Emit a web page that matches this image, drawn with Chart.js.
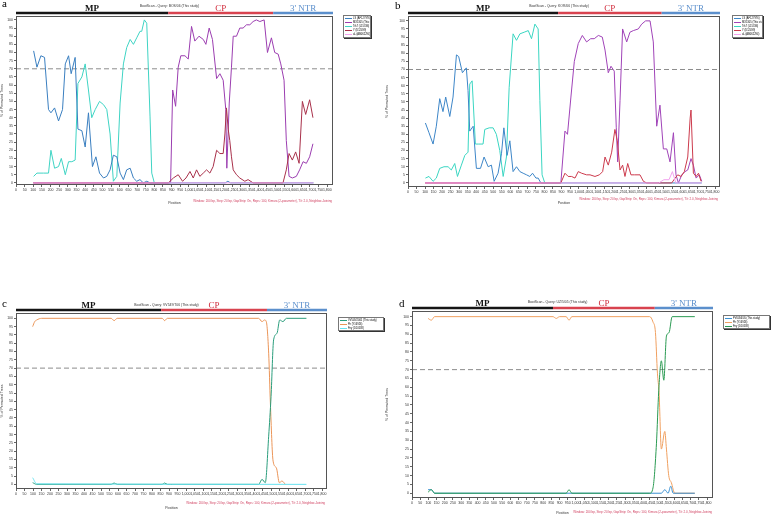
<!DOCTYPE html>
<html><head><meta charset="utf-8">
<script src="https://cdn.jsdelivr.net/npm/chart.js@4.4.0/dist/chart.umd.min.js"></script>
<style>
html,body{margin:0;padding:0;background:#fff;width:775px;height:518px;overflow:hidden;font-family:Arial,"Liberation Sans",sans-serif;}
canvas{position:absolute;}
.t{position:absolute;white-space:nowrap;line-height:1;}
.letter{font-family:"Liberation Serif",serif;font-size:11px;line-height:11px;color:#000;}
.reg{font-family:"Liberation Serif",serif;font-size:9px;font-weight:bold;transform:translate(-50%,-50%);}
.title{font-size:3.4px;color:#333;transform:translate(-50%,-50%);}
.foot{font-size:3px;color:#d04060;transform:translate(-100%,-50%);}
.legend{position:absolute;border:1px solid #777;background:#fff;box-shadow:1px 1px 0 #333;padding:1px 1px;font-size:2.6px;line-height:4px;overflow:hidden;box-sizing:border-box;}
.legend div{white-space:nowrap;}
.legend span.sw{display:inline-block;width:7px;height:0;border-top:1px solid;vertical-align:middle;margin-right:1px;}
</style></head><body>
<script>
// ---------- common ticks ----------
const xTicks = []; for (let v = 0; v <= 1800; v += 50) xTicks.push(v);
const yTicks = []; for (let v = 0; v <= 100; v += 5) yTicks.push(v);

// ---------- panel a ----------
const a_title = "BootScan - Query: BOS/06 (This study)";
const a_labels = ["LS (AF127976)", "MX1305 (This study)", "Trk7 (L15336)", "Y (D12499)", "aL (AB062294)"];
const a_LS_pos = [102,121,144,165,188,202,223,246,269,285,304,319,342,358,381,400,419,442,462,483,506,525,544,563,583,602,621,640,660,679,698,717,736,756,775,1210,1225,1240,1720];
const a_LS     = [81,71,78,77,45,43,46,38,45,73,78,67,77,33,32,22,43,10,16,6,3,4,8,17,16,6,2,8,9,3,1,2,0,1,0,0,1,0,0];
const a_MX_pos = [100,894,906,923,938,953,977,996,1015,1034,1058,1083,1098,1117,1136,1160,1179,1198,1213,1219,1233,1246,1256,1275,1294,1313,1333,1352,1371,1390,1410,1435,1454,1477,1496,1516,1531,1550,1563,1579,1598,1621,1640,1660,1679,1698,1717];
const a_MX     = [0,0,57,47,71,78,78,76,96,87,90,88,85,95,88,64,67,63,45,9,49,71,90,90,95,95,97,97,99,100,99,100,80,89,80,79,73,63,26,4,3,4,8,13,12,16,24];
const a_TN_pos = [102,121,160,188,202,223,246,262,285,304,323,342,358,381,400,419,438,458,483,506,525,544,563,583,602,621,640,660,679,698,717,727,742,756,775,785,800];
const a_TN     = [4,6,6,6,20,9,10,15,5,13,13,14,61,65,73,57,40,45,50,48,45,30,1,4,49,73,83,88,85,89,93,93,100,98,41,6,0];
const a_Y_pos  = [100,881,910,938,963,983,1006,1025,1044,1063,1083,1102,1121,1140,1160,1179,1198,1208,1217,1227,1236,1246,1256,1275,1294,1323,1342,1371,1544,1563,1579,1598,1617,1637,1656,1675,1698,1717];
const a_Y      = [0,0,3,5,1,3,7,3,8,4,6,8,6,10,20,18,18,30,46,33,26,16,8,5,3,1,2,0,0,8,18,14,19,12,50,42,51,40];
const a_aL_pos = [100,1720];
const a_aL     = [0,0];

// ---------- panel b ----------
const b_title = "BootScan - Query: KOR/06 (This study)";
const b_labels = ["LS (AF127976)", "MX1305 (This study)", "Trk7 (L15336)", "Y (D12499)", "aL (AB062294)"];
const b_LS_pos = [102,123,147,166,186,205,221,245,264,284,297,319,342,352,362,382,401,425,446,470,489,505,528,548,562,581,597,616,636,656,675,695,714,730,750,763,779,1722];
const b_LS     = [37,31,24,35,52,44,53,41,53,79,78,68,71,57,32,35,9,9,16,10,11,1,6,18,34,17,26,7,10,7,6,5,4,6,3,3,0,0];
const b_MX_pos = [100,896,920,935,955,975,998,1022,1047,1071,1092,1116,1139,1155,1174,1190,1209,1221,1229,1243,1258,1282,1301,1321,1350,1370,1393,1419,1438,1458,1477,1497,1517,1536,1556,1571,1585,1605,1624,1640,1659,1673,1689,1708,1722];
const b_MX     = [0,0,32,30,53,75,86,91,87,89,89,91,90,82,68,72,69,34,13,51,95,87,93,94,95,98,100,100,87,35,48,21,21,13,31,5,0,5,7,8,15,11,3,5,1];
const b_TN_pos = [102,123,147,166,186,211,235,254,274,290,313,333,352,362,376,395,415,440,450,476,499,518,538,558,577,593,616,636,656,681,705,724,744,763,773,786,802];
const b_TN     = [3,4,1,3,9,10,10,8,12,4,11,17,19,61,63,24,24,24,33,34,34,30,20,4,16,59,92,88,92,93,94,89,98,95,51,5,0];
const b_Y_pos  = [100,896,920,939,959,979,998,1018,1047,1067,1096,1122,1141,1155,1174,1194,1213,1227,1243,1258,1272,1288,1307,1327,1360,1380,1399,1546,1566,1581,1601,1620,1640,1654,1659,1673,1689,1703,1718];
const b_Y      = [0,0,6,4,4,3,7,6,5,5,4,5,7,16,11,19,33,26,8,11,4,12,5,5,5,1,0,0,3,5,4,7,16,40,45,6,4,6,1];
const b_aL_pos = [100,1470,1500,1530,1550,1570,1720];
const b_aL     = [0,0,2,2,7,0,0];

// ---------- panel c ----------
const c_title = "BootScan - Query: VV549/T06 (This study)";
const c_labels = ["VV549/2005 (This study)", "Fh (Y16926)", "Fny (D10538)"];
const c_Q_pos  = [98,122,560,577,595,860,874,890,1427,1447,1466,1486,1500,1515,1535,1551,1570,1590,1708];
const c_Q      = [1,0,0,0.8,0,0,0.8,0,0,3,1,29,53,87,91,99,98,100,100];
const c_Fh_pos = [98,110,122,151,560,577,595,860,874,890,1427,1447,1462,1472,1486,1496,1512,1531,1549,1564,1584];
const c_Fh     = [95,98,99,100,100,98.6,100,100,98.6,100,100,98,99,98,79,49,14,10,1,2,0];
const c_Fny_pos= [98,122,1708];
const c_Fny    = [4,0.3,0];

// ---------- panel d ----------
const d_title = "BootScan - Query: UZ/5/05 (This study)";
const d_labels = ["PV0056/05 (This study)", "Fh (Y16926)", "Fny (D10538)"];
const d_PV_pos = [98,118,138,1470,1521,1542,1562,1578,1593,1725];
const d_PV     = [2,2,0,0,0,2,0,4,0,0];
const d_Fh_pos = [98,118,138,860,880,900,940,958,975,1450,1470,1485,1497,1507,1521,1542,1552,1566,1582,1603,1725];
const d_Fh     = [99,98,100,100,99,100,100,98,100,100,97,91,68,57,25,35,25,10,6,0,0];
const d_Fny_pos= [98,118,138,940,958,975,1450,1470,1491,1505,1521,1536,1552,1568,1587,1725];
const d_Fny    = [0.6,2,0,0,2,0,0,3,28,58,75,64,89,91,100,100];

const footText = "Window: 200 bp, Step: 20 bp, GapStrip: On, Reps: 100, Kimura (2-parameter), T/t: 2.0, Neighbor-Joining";
const regionNames = ["MP", "CP", "3' NTR"];
const regionColors = ["#151515", "#d8434f", "#5b8fcc"];
const regionTextColors = ["#111", "#d02a3a", "#5b8fcc"];

function ser(pos, vals, label, color, order, smooth) {
  const d = { label, data: pos.map((p, i) => ({ x: p, y: vals[i] })), borderColor: color, backgroundColor: color,
    borderWidth: 1, pointRadius: 0, fill: false, tension: 0, order: order };
  if (smooth) d.cubicInterpolationMode = 'monotone';
  return d;
}

const framePlugin = {
  id: 'frame',
  beforeDatasetsDraw(chart) {
    const { ctx, chartArea: a, scales: { y } } = chart;
    const yy = y.getPixelForValue(70);
    ctx.save(); ctx.strokeStyle = '#8c8c8c'; ctx.lineWidth = 1; ctx.setLineDash([5, 3]);
    ctx.beginPath(); ctx.moveTo(a.left, yy); ctx.lineTo(a.right, yy); ctx.stroke(); ctx.restore();
  },
  afterDraw(chart, args, opts) {
    const { ctx, chartArea: a, scales: { x } } = chart;
    ctx.save();
    ctx.strokeStyle = '#555'; ctx.lineWidth = 1;
    ctx.strokeRect(a.left + 0.5, a.top + 0.5, a.right - a.left - 1, a.bottom - a.top - 1);
    const b = opts.bounds;
    const by = a.top - 3;
    ctx.lineWidth = 2.5;
    for (let i = 0; i < 3; i++) {
      const x0 = i === 0 ? a.left : x.getPixelForValue(b[i - 1]);
      const x1 = i === 2 ? a.right : x.getPixelForValue(b[i]);
      ctx.strokeStyle = regionColors[i];
      ctx.beginPath(); ctx.moveTo(x0, by); ctx.lineTo(x1, by); ctx.stroke();
    }
    ctx.restore();
  }
};

function addText(cls, txt, left, top, color) {
  const d = document.createElement('div');
  d.className = 't ' + cls; d.textContent = txt;
  d.style.left = left + 'px'; d.style.top = top + 'px';
  if (color) d.style.color = color;
  document.body.appendChild(d);
  return d;
}

function makePanel(p) {
  const cv = document.createElement('canvas');
  cv.width = p.cw; cv.height = p.ch;
  cv.style.left = p.cx + 'px'; cv.style.top = p.cy + 'px';
  cv.style.width = p.cw + 'px'; cv.style.height = p.ch + 'px';
  document.body.appendChild(cv);
  const f = { size: 3.5, family: 'Arial' };
  const chart = new Chart(cv, {
    type: 'line',
    data: { datasets: p.datasets },
    options: {
      responsive: false, animation: false, events: [],
      layout: { padding: { top: p.T - p.cy, right: p.cx + p.cw - p.R, left: 0, bottom: 0 } },
      plugins: { legend: { display: false }, tooltip: { enabled: false }, frame: { bounds: p.bounds } },
      scales: {
        x: {
          type: 'linear', min: 0, max: p.xmax,
          afterFit(s) { s.height = p.cy + p.ch - p.B; },
          afterBuildTicks(s) { s.ticks = xTicks.map(v => ({ value: v })); },
          ticks: { font: f, color: '#333', maxRotation: 0, minRotation: 0, autoSkip: false, padding: 1,
                   callback: v => Number(v).toLocaleString('en-US') },
          grid: { display: true, drawOnChartArea: false, tickLength: 2, color: '#666' },
          border: { display: false },
          title: { display: true, text: 'Position', font: f, color: '#333', padding: { top: 1, bottom: 0 } }
        },
        y: {
          type: 'linear', min: p.ymin, max: p.ymax,
          afterFit(s) { s.width = p.L - p.cx; },
          afterBuildTicks(s) { s.ticks = yTicks.map(v => ({ value: v })); },
          ticks: { font: f, color: '#333', padding: 1 },
          grid: { display: true, drawOnChartArea: false, tickLength: 2, color: '#666' },
          border: { display: false },
          title: { display: true, text: '% of Permuted Trees', font: f, color: '#333', padding: { top: 0, bottom: 1 } }
        }
      }
    },
    plugins: [framePlugin]
  });
  // annotations
  const a = chart.chartArea, x = chart.scales.x;
  const by = p.cy + a.top - 3;
  for (let i = 0; i < 3; i++) {
    const x0 = i === 0 ? a.left : x.getPixelForValue(p.bounds[i - 1]);
    const x1 = i === 2 ? a.right : x.getPixelForValue(p.bounds[i]);
    const d = addText('reg', regionNames[i], p.cx + (x0 + x1) / 2, by - 5.5, regionTextColors[i]);
    if (i > 0) d.style.fontWeight = 'normal';
  }
  addText('title', p.title, p.cx + (a.left + a.right) / 2 - 5, p.titleY);
  addText('foot', footText, p.footX, p.footY);
  addText('letter', p.letter, p.letterX, p.letterY);
  const lg = document.createElement('div');
  lg.className = 'legend';
  lg.style.left = p.lg[0] + 'px'; lg.style.top = p.lg[1] + 'px';
  lg.style.width = p.lg[2] + 'px'; lg.style.height = p.lg[3] + 'px';
  p.datasets.slice().sort((u, v) => u.li - v.li).forEach(ds => {
    const r = document.createElement('div');
    const sw = document.createElement('span'); sw.className = 'sw'; sw.style.borderColor = ds.borderColor;
    r.appendChild(sw); r.appendChild(document.createTextNode(ds.label));
    lg.appendChild(r);
  });
  document.body.appendChild(lg);
  return chart;
}

function withIdx(list) { list.forEach((d, i) => d.li = i); return list; }

const colA = ['#3a7fc0', '#9b3db0', '#3fd4c4', '#a8304a', '#f2a2ee'];
const colB = ['#3d86c8', '#a043b8', '#3ad6c2', '#cc3a4c', '#f2a2ee'];

makePanel({
  letter: 'a', letterX: 2, letterY: -2, title: a_title, titleY: 7,
  cx: 0, cy: 0, cw: 390, ch: 205, L: 16, T: 16, R: 333, B: 185,
  xmax: 1833, ymin: -1.3, ymax: 102.4, bounds: [880, 1487],
  footX: 332, footY: 201, lg: [343, 15, 28, 23],
  datasets: withIdx([
    ser(a_LS_pos, a_LS, a_labels[0], colA[0], 2, false),
    ser(a_MX_pos, a_MX, a_labels[1], colA[1], 3, false),
    ser(a_TN_pos, a_TN, a_labels[2], colA[2], 4, false),
    ser(a_Y_pos, a_Y, a_labels[3], colA[3], 1, false),
    ser(a_aL_pos, a_aL, a_labels[4], colA[4], 0, false)
  ])
});
makePanel({
  letter: 'b', letterX: 395, letterY: 0, title: b_title, titleY: 7,
  cx: 385, cy: 0, cw: 390, ch: 205, L: 408, T: 16, R: 720, B: 187,
  xmax: 1829, ymin: -2.5, ymax: 103, bounds: [880, 1487],
  footX: 718, footY: 199, lg: [732, 15, 31, 23],
  datasets: withIdx([
    ser(b_LS_pos, b_LS, b_labels[0], colB[0], 2, false),
    ser(b_MX_pos, b_MX, b_labels[1], colB[1], 3, false),
    ser(b_TN_pos, b_TN, b_labels[2], colB[2], 4, false),
    ser(b_Y_pos, b_Y, b_labels[3], colB[3], 1, false),
    ser(b_aL_pos, b_aL, b_labels[4], colB[4], 0, false)
  ])
});
makePanel({
  letter: 'c', letterX: 2, letterY: 298, title: c_title, titleY: 306,
  cx: 0, cy: 295, cw: 390, ch: 215, L: 16, T: 313, R: 327, B: 489,
  xmax: 1829, ymin: -2.8, ymax: 103.2, bounds: [854, 1476],
  footX: 325, footY: 503, lg: [338, 317, 46, 14],
  datasets: withIdx([
    ser(c_Q_pos, c_Q, c_labels[0], '#2a9d7c', 1, true),
    ser(c_Fh_pos, c_Fh, c_labels[1], '#eb9558', 2, true),
    ser(c_Fny_pos, c_Fny, c_labels[2], '#66e2f0', 0, true)
  ])
});
makePanel({
  letter: 'd', letterX: 399, letterY: 298, title: d_title, titleY: 303,
  cx: 385, cy: 295, cw: 390, ch: 220, L: 412, T: 311, R: 713, B: 498,
  xmax: 1836, ymin: -2.7, ymax: 103.2, bounds: [860, 1481],
  footX: 712, footY: 512, lg: [723, 315, 47, 14],
  datasets: withIdx([
    ser(d_PV_pos, d_PV, d_labels[0], '#3a90d2', 1, true),
    ser(d_Fh_pos, d_Fh, d_labels[1], '#f0a060', 2, true),
    ser(d_Fny_pos, d_Fny, d_labels[2], '#2a9a52', 0, true)
  ])
});
</script>
</body></html>
